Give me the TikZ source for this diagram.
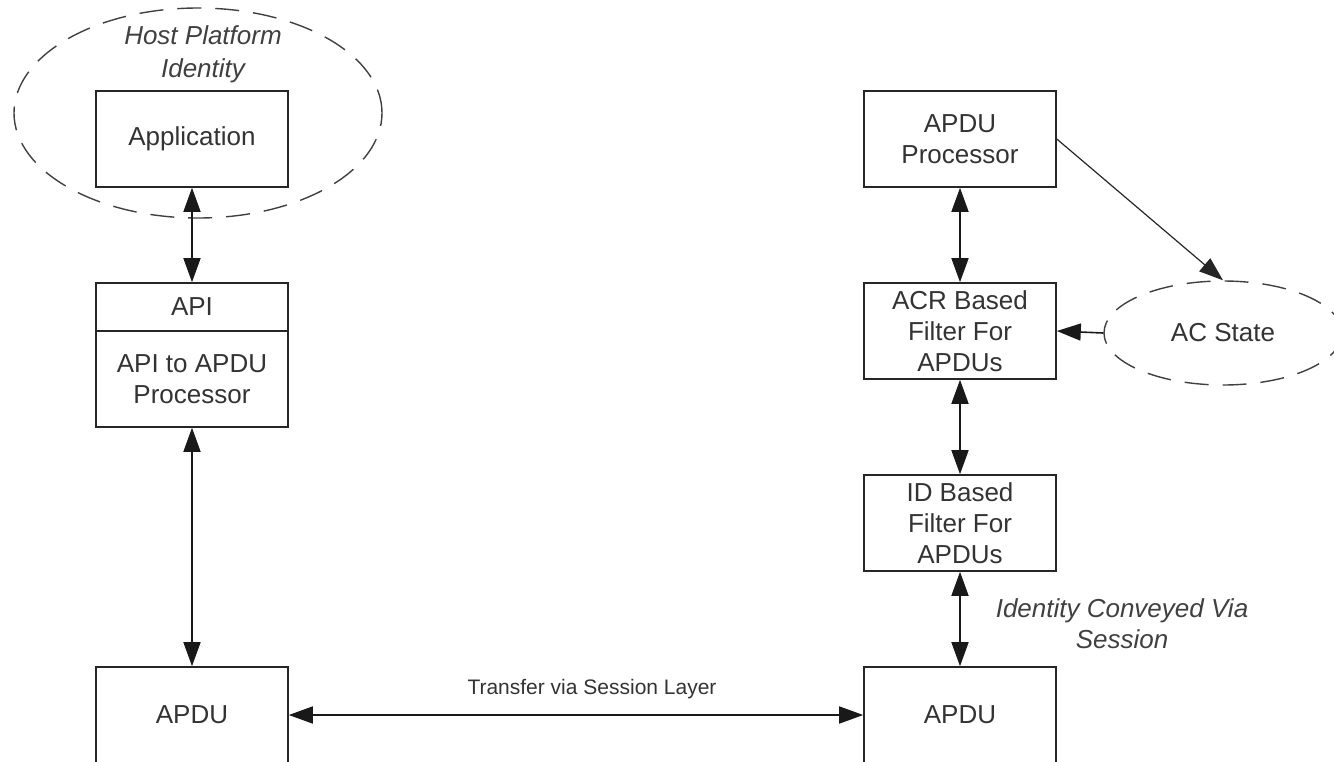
\documentclass[tikz,border=0pt]{standalone}
\usepackage{fontspec}
\setmainfont{Liberation Sans}
\usetikzlibrary{arrows.meta,shapes.geometric}
\tikzset{
  box/.style={draw=black!85, line width=1.6pt, minimum width=192pt, minimum height=96pt,
    inner sep=0pt, align=center, font=\fontsize{26}{31}\selectfont, text=black!80},
  dashell/.style={draw=black!75, line width=1.4pt, dash pattern=on 24pt off 14pt, ellipse, inner sep=0pt},
  tip/.style={-{Triangle[length=24pt,width=17pt]}},
  dtip/.style={{Triangle[length=24pt,width=17pt]}-{Triangle[length=24pt,width=17pt]}},
  conn/.style={line width=1.6pt, draw=black!90},
  ital/.style={font=\fontsize{26}{33}\selectfont\itshape, text=black!75, align=center},
}
\begin{document}
\begin{tikzpicture}[x=1pt,y=-1pt]
\useasboundingbox (0,0) rectangle (1334,761);
\clip (0,0) rectangle (1334,761);
% host ellipse
\node[dashell, minimum width=368pt, minimum height=210pt] (host) at (198,113) {};
\node[ital] (hostlbl) at (203,54) {Host Platform\\Identity};
% left column
\node[box] (app) at (192,139) {Application};
\node[box, minimum height=48pt] (apitop) at (192,307) {API};
\node[box] (apibot) at (192,379) {API to APDU\\Processor};
\node[box] (apduL) at (192,715) {APDU};
% right column
\node[box] (proc) at (960,139) {APDU\\Processor};
\node[box] (acr) at (960,331) {ACR Based\\Filter For\\APDUs};
\node[box] (idf) at (960,523) {ID Based\\Filter For\\APDUs};
\node[box] (apduR) at (960,715) {APDU};
% AC State
\node[dashell, minimum width=238pt, minimum height=104pt, font=\fontsize{26}{31}\selectfont, text=black!80] (acs) at (1223,333) {AC State};
% connectors
\draw[conn,dtip] (app.south) -- (apitop.north);
\draw[conn,dtip] (apibot.south) -- (apduL.north);
\draw[conn,dtip] (apduL.east) -- (apduR.west);
\node[font=\fontsize{21}{25}\selectfont, text=black!80] (xfer) at (592,689) {Transfer via Session Layer};
\draw[conn,dtip] (proc.south) -- (acr.north);
\draw[conn,dtip] (acr.south) -- (idf.north);
\draw[conn,dtip] (idf.south) -- (apduR.north);
\draw[conn,tip] (acs.west) -- (acr.east);
\draw[line width=1.2pt, draw=black!85, tip] (proc.east) -- (acs.north);
\node[ital, font=\fontsize{26}{31}\selectfont\itshape] (idlbl) at (1122,624) {Identity Conveyed Via\\Session};
\end{tikzpicture}
\end{document}
